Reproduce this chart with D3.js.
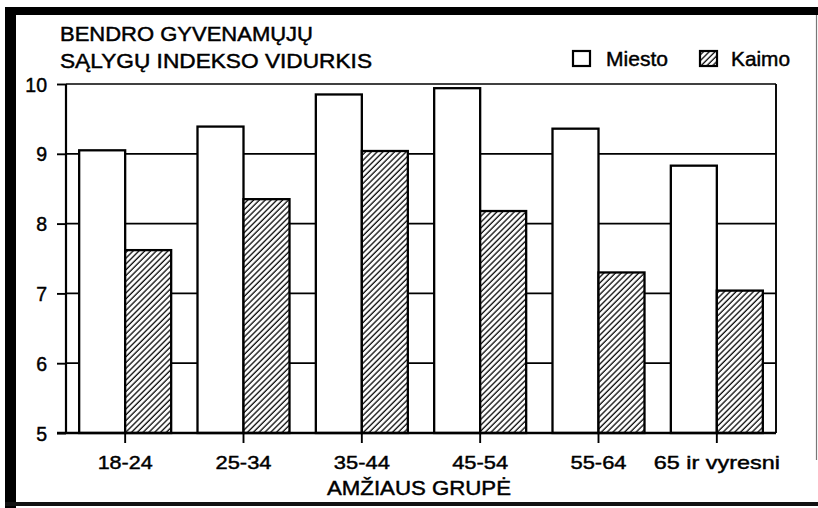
<!DOCTYPE html>
<html>
<head>
<meta charset="utf-8">
<script src="https://cdn.jsdelivr.net/npm/d3@7"></script>
<style>
  html, body { margin: 0; padding: 0; background: #fff; }
  svg { display: block; }
  text { font-family: "Liberation Sans", Arial, Helvetica, sans-serif; fill: #000; stroke: #000; stroke-width: 0.45px; }
</style>
</head>
<body>
<svg id="chart" width="818" height="508"></svg>
<script>
// Age groups and mean housing-conditions index, urban vs rural
const ageGroups = ["18-24", "25-34", "35-44", "45-54", "55-64", "65 ir vyresni"];
const miesto = [9.05, 9.39, 9.85, 9.94, 9.36, 8.83];
const kaimo  = [7.62, 8.35, 9.04, 8.18, 7.30, 7.04];
const seriesNames = ["Miesto", "Kaimo"];
const yTicks = [5, 6, 7, 8, 9, 10];
const titleLines = ["BENDRO GYVENAMŲJŲ", "SĄLYGŲ INDEKSO VIDURKIS"];
const xTitle = "AMŽIAUS GRUPĖ";

// Rendered widths of the (slightly expanded) lettering
const labelWidth = { "18-24": 55, "25-34": 56, "35-44": 56, "45-54": 56, "55-64": 56, "65 ir vyresni": 126 };

const svg = d3.select("#chart");
const plot = { left: 66, right: 776, top: 84, bottom: 433 };

// Hatch pattern for the rural bars
const defs = svg.append("defs");
const pat = defs.append("pattern")
  .attr("id", "hatch")
  .attr("patternUnits", "userSpaceOnUse")
  .attr("width", 4.1).attr("height", 4.1)
  .attr("patternTransform", "rotate(45)");
pat.append("rect").attr("width", 4.1).attr("height", 4.1).attr("fill", "#fff");
pat.append("line").attr("x1", 1).attr("y1", 0).attr("x2", 1).attr("y2", 4.1)
  .attr("stroke", "#111").attr("stroke-width", 1.35);

// Page frame
svg.append("rect").attr("x", 5).attr("y", 7).attr("width", 11).attr("height", 501).attr("fill", "#000");
svg.append("rect").attr("x", 5).attr("y", 7).attr("width", 813).attr("height", 8).attr("fill", "#000");
svg.append("rect").attr("x", 5).attr("y", 502).attr("width", 813).attr("height", 4).attr("fill", "#111");
svg.append("line").attr("x1", 816.5).attr("x2", 816.5).attr("y1", 15).attr("y2", 460)
  .attr("stroke", "#777").attr("stroke-width", 1.2);

// Scales
const x = d3.scaleBand().domain(ageGroups).range([plot.left, plot.right]).padding(0);
const y = d3.scaleLinear().domain([5, 10]).range([plot.bottom, plot.top]);
const barW = 46;

// Horizontal gridlines (behind bars)
svg.append("g").selectAll("line").data(yTicks).join("line")
  .attr("x1", plot.left).attr("x2", plot.right)
  .attr("y1", d => y(d)).attr("y2", d => y(d))
  .attr("stroke", "#000").attr("stroke-width", 1.7);

// Right edge of plot
svg.append("line").attr("x1", plot.right).attr("x2", plot.right)
  .attr("y1", plot.top).attr("y2", plot.bottom)
  .attr("stroke", "#000").attr("stroke-width", 1.9);

// Y axis
const yAxis = d3.axisLeft(y).tickValues(yTicks).tickSize(9).tickPadding(10).tickFormat(d3.format("d"));
const gy = svg.append("g").attr("transform", `translate(${plot.left},0)`).call(yAxis);
gy.select(".domain").attr("stroke", "#000").attr("stroke-width", 2.2).attr("d", `M0,${plot.top}V${plot.bottom}`);
gy.selectAll(".tick line").attr("stroke", "#000").attr("stroke-width", 1.9);
gy.selectAll(".tick text").attr("font-size", 19.5).attr("fill", "#000")
  .attr("font-family", "'Liberation Sans', Arial, sans-serif").attr("dy", "0.36em");

// Bars
const bars = svg.append("g");
bars.selectAll("rect.miesto").data(ageGroups).join("rect")
  .attr("class", "miesto")
  .attr("x", d => x(d) + x.bandwidth() / 2 - barW)
  .attr("y", (d, i) => y(miesto[i]))
  .attr("width", barW)
  .attr("height", (d, i) => y(5) - y(miesto[i]))
  .attr("fill", "#fff").attr("stroke", "#000").attr("stroke-width", 2.3);
bars.selectAll("rect.kaimo").data(ageGroups).join("rect")
  .attr("class", "kaimo")
  .attr("x", d => x(d) + x.bandwidth() / 2)
  .attr("y", (d, i) => y(kaimo[i]))
  .attr("width", barW)
  .attr("height", (d, i) => y(5) - y(kaimo[i]))
  .attr("fill", "url(#hatch)").attr("stroke", "#000").attr("stroke-width", 2.3);

// X axis
const xAxis = d3.axisBottom(x).tickSize(10).tickPadding(14);
const gx = svg.append("g").attr("transform", `translate(0,${plot.bottom})`).call(xAxis);
gx.select(".domain").attr("stroke", "#000").attr("stroke-width", 2.4).attr("d", `M${plot.left - 9},0H${plot.right}`);
gx.selectAll(".tick line").attr("stroke", "#000").attr("stroke-width", 1.9);
gx.selectAll(".tick text").attr("font-size", 19).attr("fill", "#000")
  .attr("font-family", "'Liberation Sans', Arial, sans-serif")
  .attr("y", 36).attr("dy", 0)
  .attr("textLength", d => labelWidth[d]).attr("lengthAdjust", "spacingAndGlyphs");

// X axis title
svg.append("text").attr("x", 419).attr("y", 495).attr("text-anchor", "middle")
  .attr("font-size", 20).attr("textLength", 184).attr("lengthAdjust", "spacingAndGlyphs")
  .text(xTitle);

// Chart title (two lines)
svg.append("g").selectAll("text").data(titleLines).join("text")
  .attr("x", 60).attr("y", (d, i) => 41 + i * 27)
  .attr("font-size", 19.5)
  .attr("textLength", (d, i) => [253, 312][i]).attr("lengthAdjust", "spacingAndGlyphs")
  .text(d => d);

// Legend
const legendPos = [{ bx: 573, tx: 606, tw: 62 }, { bx: 700, tx: 731, tw: 59 }];
const lg = svg.append("g").selectAll("g").data(seriesNames).join("g");
lg.append("rect")
  .attr("x", (d, i) => legendPos[i].bx).attr("y", 51)
  .attr("width", 17).attr("height", 15)
  .attr("fill", (d, i) => i === 0 ? "#fff" : "url(#hatch)")
  .attr("stroke", "#000").attr("stroke-width", 2.2);
lg.append("text")
  .attr("x", (d, i) => legendPos[i].tx).attr("y", 65.5)
  .attr("font-size", 20.5)
  .attr("textLength", (d, i) => legendPos[i].tw).attr("lengthAdjust", "spacingAndGlyphs")
  .text(d => d);
</script>
</body>
</html>
